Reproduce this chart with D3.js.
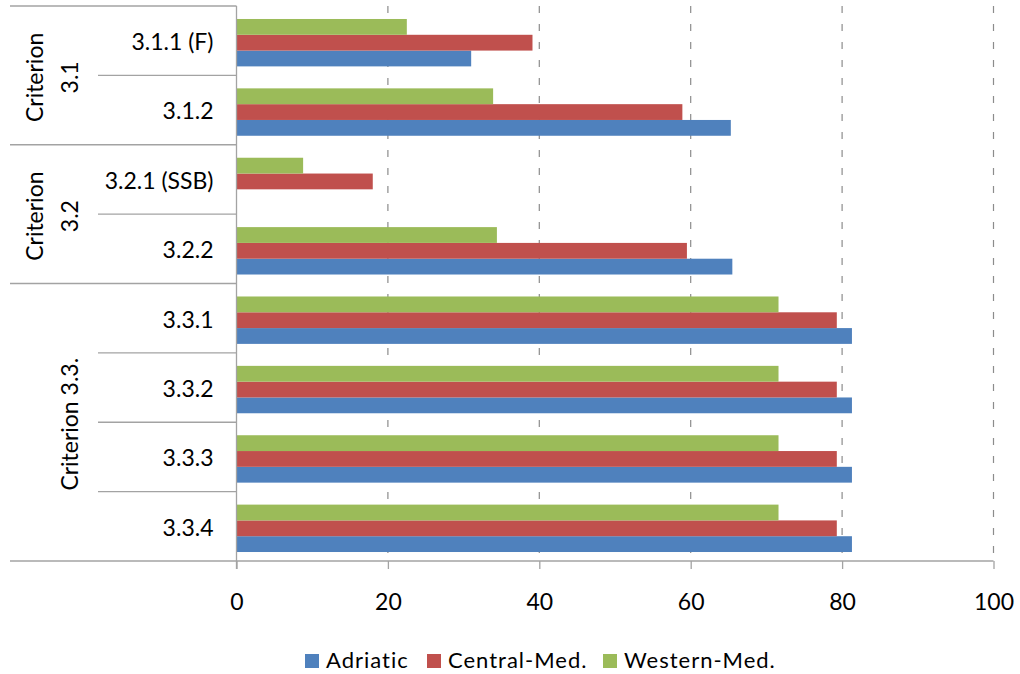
<!DOCTYPE html>
<html>
<head>
<meta charset="utf-8">
<script src="https://cdn.jsdelivr.net/npm/d3@7"></script>
<style>
  html, body { margin: 0; padding: 0; background: #fff; }
  svg { display: block; font-family: Lato, "Open Sans", sans-serif; }
</style>
</head>
<body>
<svg id="chart" width="1020" height="674"></svg>
<script>
// Indicators, top to bottom
const categories = ["3.1.1 (F)", "3.1.2", "3.2.1 (SSB)", "3.2.2", "3.3.1", "3.3.2", "3.3.3", "3.3.4"];
// Criterion grouping of the indicators
const groupLabels = [["Criterion", "3.1"], ["Criterion", "3.2"], ["Criterion 3.3."]];
const groupSizes = [2, 2, 4];

// Series (legend order)
const seriesNames = ["Adriatic", "Central-Med.", "Western-Med."];
const adriatic    = [31.0, 65.3, 0,    65.5, 81.3, 81.3, 81.3, 81.3];
const centralMed  = [39.1, 58.9, 18.0, 59.5, 79.3, 79.3, 79.3, 79.3];
const westernMed  = [22.5, 33.9, 8.8,  34.4, 71.6, 71.6, 71.6, 71.6];
const seriesColors = ["#4F81BD", "#C0504D", "#9BBB59"];

const xTicks = [0, 20, 40, 60, 80, 100];

const seriesValues = [adriatic, centralMed, westernMed];

const svg = d3.select("#chart");
const plot = { left: 236.5, right: 993.5, top: 6, bottom: 561 };
const tableLeft = 10, subLeft = 98;
const lineColor = "#a3a3a3";

const x = d3.scaleLinear().domain([0, 100]).range([plot.left, plot.right]);
const y = d3.scaleBand().domain(categories).range([plot.top, plot.bottom]);

// bars within a row: Western on top, Adriatic at the bottom
const groupH = 47.4, barShift = 2;
const inner = d3.scaleBand()
  .domain(seriesNames.slice().reverse())
  .range([0, groupH]);
const rowTop = c => y(c) + y.bandwidth() / 2 + barShift - groupH / 2;

// dashed vertical gridlines
svg.append("g").selectAll("line")
  .data(xTicks.filter(t => t > 0))
  .join("line")
  .attr("x1", d => x(d)).attr("x2", d => x(d))
  .attr("y1", plot.top).attr("y2", plot.bottom)
  .attr("stroke", "#8c8c8c").attr("stroke-width", 1.2)
  .attr("stroke-dasharray", "7,11");

// bars
seriesNames.forEach((name, si) => {
  svg.append("g")
    .attr("fill", seriesColors[si])
    .selectAll("rect")
    .data(categories.map((c, i) => ({ c, v: seriesValues[si][i] })))
    .join("rect")
    .attr("x", x(0))
    .attr("y", d => rowTop(d.c) + inner(name))
    .attr("width", d => x(d.v) - x(0))
    .attr("height", inner.bandwidth());
});

// category table lines on the left
const starts = [];
let acc = 0;
groupSizes.forEach(n => { starts.push(acc); acc += n; });
const boundaries = d3.range(categories.length + 1).map(i => ({
  y: i < categories.length ? y(categories[i]) : plot.bottom,
  group: i === 0 || i === categories.length || starts.includes(i)
}));
svg.append("g").selectAll("line")
  .data(boundaries.filter(b => b.y < plot.bottom))
  .join("line")
  .attr("x1", d => d.group ? tableLeft : subLeft)
  .attr("x2", plot.left)
  .attr("y1", d => d.y).attr("y2", d => d.y)
  .attr("stroke", lineColor).attr("stroke-width", 1.3);

// x axis
const xAxis = svg.append("g")
  .attr("transform", `translate(0,${plot.bottom})`)
  .call(d3.axisBottom(x).tickValues(xTicks).tickSize(8).tickSizeOuter(0));
xAxis.select(".domain").remove();
xAxis.selectAll(".tick line").attr("stroke", lineColor).attr("stroke-width", 1.3);
xAxis.selectAll(".tick text")
  .attr("y", 49).attr("dy", 0)
  .attr("font-size", 23).attr("fill", "#000")
  .attr("font-family", "Lato, sans-serif");
svg.append("line")
  .attr("x1", tableLeft).attr("x2", plot.right)
  .attr("y1", plot.bottom).attr("y2", plot.bottom)
  .attr("stroke", lineColor).attr("stroke-width", 1.3);

// vertical axis line
svg.append("line")
  .attr("x1", plot.left).attr("x2", plot.left)
  .attr("y1", plot.top).attr("y2", plot.bottom + 8)
  .attr("stroke", lineColor).attr("stroke-width", 1.3);

// indicator labels
const yAxis = svg.append("g")
  .attr("transform", `translate(${plot.left},${barShift})`)
  .call(d3.axisLeft(y).tickSize(0).tickPadding(23));
yAxis.select(".domain").remove();
yAxis.selectAll(".tick text")
  .attr("font-size", 23).attr("fill", "#000")
  .attr("font-family", "Lato, sans-serif");

// criterion labels, rotated
groupLabels.forEach((lines, gi) => {
  const first = categories[starts[gi]];
  const last = categories[starts[gi] + groupSizes[gi] - 1];
  const cy = (y(first) + y(last) + y.bandwidth()) / 2 + barShift;
  const baselines = lines.length === 2 ? [43, 78] : [78];
  lines.forEach((t, li) => {
    svg.append("text")
      .attr("transform", `translate(${baselines[li]},${cy}) rotate(-90)`)
      .attr("text-anchor", "middle")
      .attr("font-size", 23)
      .attr("fill", "#000")
      .text(t);
  });
});

// legend
const legendItems = [
  { name: seriesNames[0], color: seriesColors[0], x: 305 },
  { name: seriesNames[1], color: seriesColors[1], x: 427 },
  { name: seriesNames[2], color: seriesColors[2], x: 603 }
];
const lg = svg.append("g").selectAll("g").data(legendItems).join("g")
  .attr("transform", d => `translate(${d.x},654)`);
lg.append("rect").attr("width", 14).attr("height", 14).attr("fill", d => d.color);
lg.append("text")
  .attr("x", 21).attr("y", 14)
  .attr("font-size", 22).attr("letter-spacing", 1)
  .attr("fill", "#000")
  .text(d => d.name);
</script>
</body>
</html>
